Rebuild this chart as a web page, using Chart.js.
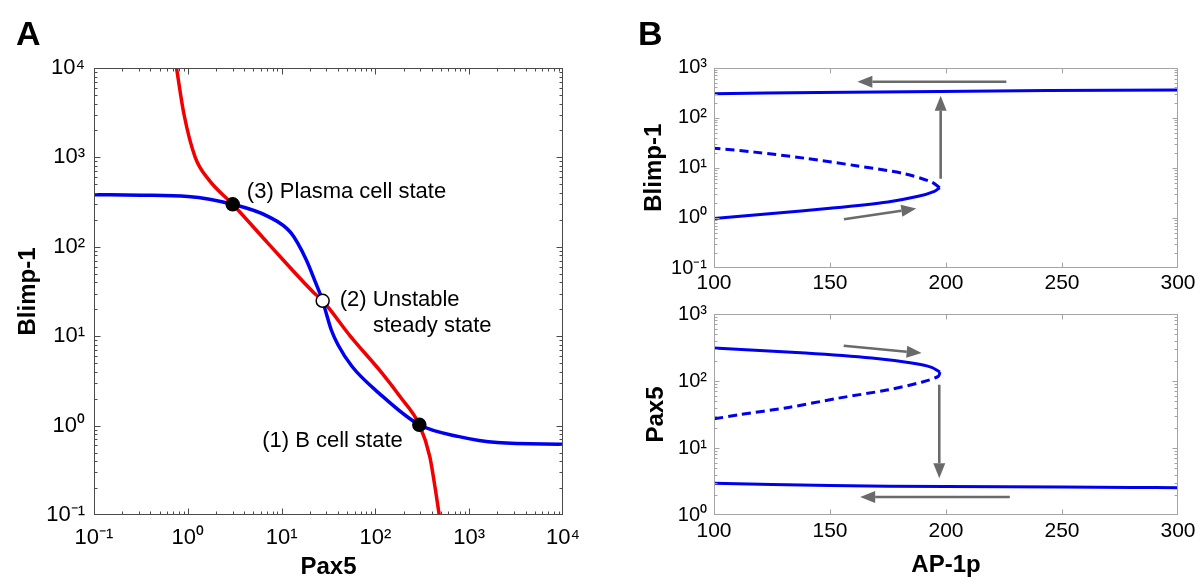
<!DOCTYPE html>
<html><head><meta charset="utf-8">
<script src="https://cdn.jsdelivr.net/npm/chart.js@4.4.1/dist/chart.umd.min.js"></script>
<style>
html,body{margin:0;padding:0;background:#fff;width:1200px;height:586px;overflow:hidden}
canvas{position:absolute}
#cA{left:0;top:0}
#cB1{left:600px;top:0}
#cB2{left:600px;top:293px}
</style></head><body>
<canvas id="cA" width="600" height="586"></canvas>
<canvas id="cB1" width="600" height="293"></canvas>
<canvas id="cB2" width="600" height="293"></canvas>
<script>
// ---------- Panel A: nullclines (log-log) ----------
const A_RED_PAX5    = [0.758, 0.906, 1.20, 1.67, 3.01, 7.14, 21.9, 27.4, 54.8, 117, 184.5, 294, 380, 437, 479];
const A_RED_BLIMP1  = [10000, 3119, 1000, 564, 299, 110, 30.9, 24.9, 9.84, 3.89, 2.09, 1.02, 0.451, 0.19, 0.1];
const A_BLUE_PAX5   = [0.1, 0.316, 1, 3.01, 7.14, 12.6, 18.3, 23.1, 27.4, 29.2, 33.8, 39.9, 56.4, 109, 294, 780, 1991, 10000];
const A_BLUE_BLIMP1 = [383, 378, 366, 299, 219, 143, 71.8, 39.4, 24.9, 19.7, 11.8, 8.02, 4.58, 2.31, 1.02, 0.753, 0.646, 0.62];
const A_STATE_PAX5   = [294, 27.4, 3.01];
const A_STATE_BLIMP1 = [1.02, 24.9, 299];
const A_STATE_STABLE = [true, false, true];
const A_NOTES = ['(3) Plasma cell state', '(2) Unstable', 'steady state', '(1) B cell state'];
const A_NOTE_PAX5   = [4.26, 41.7, 94.2, 6.21];
const A_NOTE_BLIMP1 = [350, 21.9, 11.0, 0.577];
const A_TICKS = [0.1, 1, 10, 100, 1000, 10000];
const A_TICK_LABELS = ['10\u207B\u00B9', '10\u2070', '10\u00B9', '10\u00B2', '10\u00B3', '10\u2074'];

// ---------- Panel B top: Blimp-1 vs AP-1p ----------
const B1_UP_AP    = [100, 145, 197, 244, 300];
const B1_UP_VAL   = [300, 318, 333, 349, 356];
const B1_LOW_AP   = [100, 125, 150, 175, 188, 195, 197.3];
const B1_LOW_VAL  = [0.97, 1.22, 1.55, 2.08, 2.69, 3.39, 4.0];
const B1_DASH_AP  = [197.3, 193.7, 182.2, 160.6, 139.1, 117.5, 100];
const B1_DASH_VAL = [4.0, 5.19, 7.6, 11.1, 15.5, 20.5, 24.5];
const B1_ARROWS = [[226, 518, 161.8, 518], [197.7, 6.04, 197.7, 274], [156, 0.94, 187.2, 1.53]];
const B1_TICKS = [0.1, 1, 10, 100, 1000];
const B1_TICK_LABELS = ['10\u207B\u00B9', '10\u2070', '10\u00B9', '10\u00B2', '10\u00B3'];

// ---------- Panel B bottom: Pax5 vs AP-1p ----------
const B2_UP_AP    = [100, 139.4, 168, 185.2, 193.8, 197.4];
const B2_UP_VAL   = [310, 261, 220, 185, 160, 136];
const B2_DASH_AP  = [197.4, 196.7, 189.5, 175.2, 153.7, 132.2, 110.7, 100];
const B2_DASH_VAL = [136, 117, 96, 74, 55.5, 40.3, 31.3, 27.2];
const B2_LOW_AP   = [100, 150, 200, 250, 280, 300];
const B2_LOW_VAL  = [2.98, 2.75, 2.66, 2.62, 2.58, 2.56];
const B2_ARROWS = [[155.9, 336, 189.5, 261], [197.1, 88, 197.1, 3.54], [227.5, 1.86, 163, 1.86]];
const B2_TICKS = [1, 10, 100, 1000];
const B2_TICK_LABELS = ['10\u2070', '10\u00B9', '10\u00B2', '10\u00B3'];

const AP_TICKS = [100, 150, 200, 250, 300];

// ---------- helpers ----------
const FONT = "'Liberation Sans', Arial, sans-serif";
Chart.defaults.font.family = FONT;
Chart.defaults.color = '#000';
const zip = (xs, ys) => xs.map((x, i) => ({x: x, y: ys[i]}));
const BLUE = '#0000f0', RED = '#f00000', ARROW = '#6a6a6a';

function logMinor(min, max) {
  const out = [];
  for (let k = Math.floor(Math.log10(min)); k <= Math.ceil(Math.log10(max)); k++) {
    for (let m = 2; m <= 9; m++) {
      const v = m * Math.pow(10, k);
      if (v > min * 1.0001 && v < max * 0.9999) out.push(v);
    }
  }
  return out;
}

const decoPlugin = {
  id: 'deco',
  afterDatasetsDraw(chart, args, o) {
    const ctx = chart.ctx;
    const {left, right, top, bottom} = chart.chartArea;
    const xs = chart.scales.x, ys = chart.scales.y;
    ctx.save();
    (o.arrows || []).forEach(a => {
      const x0 = xs.getPixelForValue(a[0]), y0 = ys.getPixelForValue(a[1]);
      const x1 = xs.getPixelForValue(a[2]), y1 = ys.getPixelForValue(a[3]);
      const ang = Math.atan2(y1 - y0, x1 - x0);
      const hl = 15, hw = 6;
      const bx = x1 - hl * Math.cos(ang), by = y1 - hl * Math.sin(ang);
      ctx.strokeStyle = ARROW; ctx.fillStyle = ARROW; ctx.lineWidth = 2.6;
      ctx.beginPath(); ctx.moveTo(x0, y0); ctx.lineTo(bx, by); ctx.stroke();
      ctx.beginPath(); ctx.moveTo(x1, y1);
      ctx.lineTo(bx + hw * Math.sin(ang), by - hw * Math.cos(ang));
      ctx.lineTo(bx - hw * Math.sin(ang), by + hw * Math.cos(ang));
      ctx.closePath(); ctx.fill();
    });
    const p = v => Math.round(v) + 0.5;
    const L = p(left), R = p(right) - 1, T = p(top), B = p(bottom) - 1;
    ctx.strokeStyle = o.frameColor; ctx.lineWidth = 1;
    ctx.strokeRect(L, T, R - L, B - T);
    ctx.beginPath();
    const xMaj = xs.ticks.map(t => t.value), yMaj = ys.ticks.map(t => t.value);
    const xMin = o.xLog ? logMinor(xs.min, xs.max) : [];
    const yMin = o.yLog ? logMinor(ys.min, ys.max) : [];
    const vx = (vals, len) => vals.forEach(v => {
      const x = p(xs.getPixelForValue(v));
      if (x <= L + 1 || x >= R - 1) return;
      ctx.moveTo(x, B); ctx.lineTo(x, B - len);
      ctx.moveTo(x, T); ctx.lineTo(x, T + len);
    });
    const vy = (vals, len) => vals.forEach(v => {
      const y = p(ys.getPixelForValue(v));
      if (y <= T + 1 || y >= B - 1) return;
      ctx.moveTo(L, y); ctx.lineTo(L + len, y);
      ctx.moveTo(R, y); ctx.lineTo(R - len, y);
    });
    vx(xMaj, o.major); vx(xMin, o.minor); vy(yMaj, o.major); vy(yMin, o.minor);
    ctx.stroke();
    ctx.fillStyle = '#000';
    ctx.textBaseline = 'alphabetic'; ctx.textAlign = 'left';
    ctx.font = '22px ' + FONT;
    (o.notes || []).forEach(n => {
      ctx.fillText(n.text, xs.getPixelForValue(n.x), ys.getPixelForValue(n.y));
    });
    if (o.letter) {
      ctx.font = 'bold 34px ' + FONT;
      ctx.fillText(o.letter.text, o.letter.x, o.letter.y);
    }
    ctx.restore();
  }
};

function logAxis(min, max, ticks, labels, size, pad, width, title, tpad) {
  return {
    type: 'logarithmic', min: min, max: max,
    afterBuildTicks: s => { s.ticks = ticks.map(v => ({value: v})); },
    afterFit: s => { s.width = width; },
    grid: {display: false, drawTicks: false}, border: {display: false},
    ticks: {font: {size: size}, color: '#000', padding: pad, autoSkip: false, maxRotation: 0,
            callback: (v, i) => labels[i]},
    title: {display: true, text: title, font: {size: 24, weight: 'bold'}, color: '#000', padding: {top: tpad, bottom: 0}}
  };
}

// ---------- Chart A ----------
new Chart(document.getElementById('cA'), {
  type: 'scatter',
  data: {datasets: [
    {data: zip(A_STATE_PAX5, A_STATE_BLIMP1), showLine: false, pointRadius: 6.5, pointHoverRadius: 6.5,
     backgroundColor: A_STATE_STABLE.map(s => s ? '#000' : '#fff'), borderColor: '#000', borderWidth: 1.5},
    {data: zip(A_BLUE_PAX5, A_BLUE_BLIMP1), showLine: true, pointRadius: 0, borderColor: BLUE, borderWidth: 3.5, cubicInterpolationMode: 'monotone'},
    {data: zip(A_RED_PAX5, A_RED_BLIMP1), showLine: true, pointRadius: 0, borderColor: RED, borderWidth: 3.5, cubicInterpolationMode: 'monotone'}
  ]},
  options: {
    responsive: false, animation: false, devicePixelRatio: 1,
    layout: {padding: {left: 0, top: 68, right: 37, bottom: 0}},
    plugins: {legend: {display: false}, tooltip: {enabled: false},
      deco: {frameColor: '#4a4a4a', major: 6, minor: 3, xLog: true, yLog: true,
        notes: A_NOTES.map((t, i) => ({text: t, x: A_NOTE_PAX5[i], y: A_NOTE_BLIMP1[i]})),
        letter: {text: 'A', x: 16, y: 45}}},
    scales: {
      x: {type: 'logarithmic', min: 0.1, max: 10000,
        afterBuildTicks: s => { s.ticks = A_TICKS.map(v => ({value: v})); },
        afterFit: s => { s.height = 71; },
        grid: {display: false, drawTicks: false}, border: {display: false},
        ticks: {font: {size: 22}, color: '#000', padding: 10, autoSkip: false, maxRotation: 0,
                callback: (v, i) => A_TICK_LABELS[i]},
        title: {display: true, text: 'Pax5', font: {size: 24, weight: 'bold'}, color: '#000', padding: {top: 0, bottom: 4.7}}},
      y: logAxis(0.1, 10000, A_TICKS, A_TICK_LABELS, 22, 9, 94, 'Blimp-1', 13.6)
    }
  },
  plugins: [decoPlugin]
});

// ---------- Chart B top ----------
new Chart(document.getElementById('cB1'), {
  type: 'scatter',
  data: {datasets: [
    {data: zip(B1_UP_AP, B1_UP_VAL), showLine: true, pointRadius: 0, borderColor: BLUE, borderWidth: 3, tension: 0.3},
    {data: zip(B1_LOW_AP, B1_LOW_VAL), showLine: true, pointRadius: 0, borderColor: BLUE, borderWidth: 3, tension: 0.3},
    {data: zip(B1_DASH_AP, B1_DASH_VAL), showLine: true, pointRadius: 0, borderColor: BLUE, borderWidth: 3, tension: 0.3, borderDash: [9, 5]}
  ]},
  options: {
    responsive: false, animation: false, devicePixelRatio: 1,
    layout: {padding: {left: 0, top: 67.5, right: 22, bottom: 0}},
    plugins: {legend: {display: false}, tooltip: {enabled: false},
      deco: {frameColor: '#a4a4a4', major: 5, minor: 3, xLog: false, yLog: true, arrows: B1_ARROWS,
        letter: {text: 'B', x: 38, y: 45}}},
    scales: {
      x: {type: 'linear', min: 100, max: 300,
        afterBuildTicks: s => { s.ticks = AP_TICKS.map(v => ({value: v})); },
        afterFit: s => { s.height = 25; },
        grid: {display: false, drawTicks: false}, border: {display: false},
        ticks: {font: {size: 21}, color: '#000', padding: 3, autoSkip: false, maxRotation: 0,
                callback: v => String(v)},
        title: {display: false}},
      y: logAxis(0.1, 1000, B1_TICKS, B1_TICK_LABELS, 20, 7, 114, 'Blimp-1', 40.4)
    }
  },
  plugins: [decoPlugin]
});

// ---------- Chart B bottom ----------
new Chart(document.getElementById('cB2'), {
  type: 'scatter',
  data: {datasets: [
    {data: zip(B2_UP_AP, B2_UP_VAL), showLine: true, pointRadius: 0, borderColor: BLUE, borderWidth: 3, tension: 0.3},
    {data: zip(B2_DASH_AP, B2_DASH_VAL), showLine: true, pointRadius: 0, borderColor: BLUE, borderWidth: 3, tension: 0.3, borderDash: [9, 5]},
    {data: zip(B2_LOW_AP, B2_LOW_VAL), showLine: true, pointRadius: 0, borderColor: BLUE, borderWidth: 3, tension: 0.3}
  ]},
  options: {
    responsive: false, animation: false, devicePixelRatio: 1,
    layout: {padding: {left: 0, top: 21, right: 22, bottom: 0}},
    plugins: {legend: {display: false}, tooltip: {enabled: false},
      deco: {frameColor: '#a4a4a4', major: 5, minor: 3, xLog: false, yLog: true, arrows: B2_ARROWS}},
    scales: {
      x: {type: 'linear', min: 100, max: 300,
        afterBuildTicks: s => { s.ticks = AP_TICKS.map(v => ({value: v})); },
        afterFit: s => { s.height = 71; },
        grid: {display: false, drawTicks: false}, border: {display: false},
        ticks: {font: {size: 21}, color: '#000', padding: 3.5, autoSkip: false, maxRotation: 0,
                callback: v => String(v)},
        title: {display: true, text: 'AP-1p', font: {size: 24, weight: 'bold'}, color: '#000', padding: {top: 0, bottom: 6}}},
      y: logAxis(1, 1000, B2_TICKS, B2_TICK_LABELS, 20, 7, 114, 'Pax5', 42.3)
    }
  },
  plugins: [decoPlugin]
});
</script>
</body></html>
